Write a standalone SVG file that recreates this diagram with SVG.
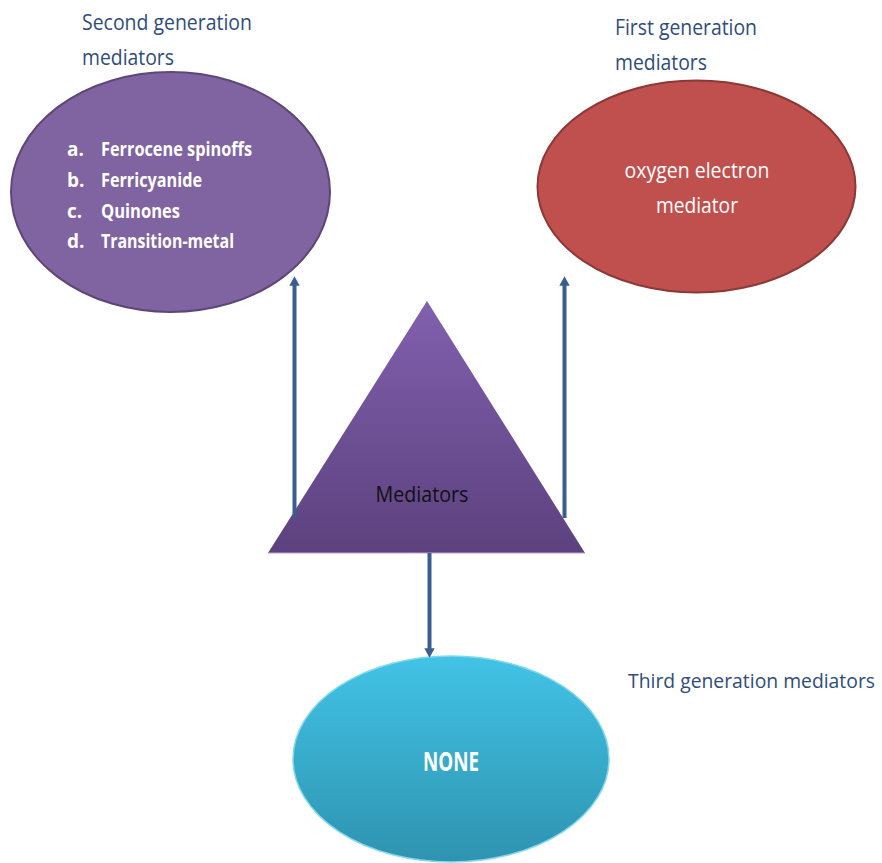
<svg xmlns="http://www.w3.org/2000/svg" width="882" height="863" viewBox="0 0 882 863">
<style>
.lbl{font-family:"Open Sans","Liberation Sans",sans-serif;font-size:22px;fill:#2F4C7C}
.wt{font-family:"Open Sans","Liberation Sans",sans-serif;fill:#FFFFFF}
.bw{font-family:"Open Sans","Liberation Sans",sans-serif;font-weight:bold;fill:#FFFFFF;font-size:19px}
.conn{stroke:#3A5F8E;stroke-width:4;fill:none}
</style>
<defs>
<linearGradient id="triG" x1="0" y1="0" x2="0" y2="1">
<stop offset="0" stop-color="#8160AE"/>
<stop offset="1" stop-color="#5C417E"/>
</linearGradient>
<linearGradient id="cyG" x1="0" y1="0" x2="0" y2="1">
<stop offset="0" stop-color="#42C3E6"/>
<stop offset="1" stop-color="#2E93B0"/>
</linearGradient>
<marker id="ah" markerWidth="2.4" markerHeight="2.6" refX="1.2" refY="1.3" orient="auto" markerUnits="strokeWidth">
<path d="M0,0 L2.4,1.3 L0,2.6 Z" fill="#3A5F8E"/>
</marker>
</defs>
<g id="second">
<ellipse cx="170.5" cy="192" rx="159.5" ry="120" fill="#8064A2" stroke="#5C4776" stroke-width="2"/>
<text class="lbl" x="82" y="30" textLength="170" lengthAdjust="spacingAndGlyphs">Second generation</text>
<text class="lbl" x="82" y="65" textLength="92" lengthAdjust="spacingAndGlyphs">mediators</text>
<text class="bw" x="67" y="156">a.</text><text class="bw" x="101" y="156" textLength="151" lengthAdjust="spacingAndGlyphs">Ferrocene spinoffs</text>
<text class="bw" x="67" y="187">b.</text><text class="bw" x="101" y="187" textLength="101" lengthAdjust="spacingAndGlyphs">Ferricyanide</text>
<text class="bw" x="67" y="218">c.</text><text class="bw" x="101" y="218" textLength="79" lengthAdjust="spacingAndGlyphs">Quinones</text>
<text class="bw" x="67" y="248">d.</text><text class="bw" x="101" y="248" textLength="133" lengthAdjust="spacingAndGlyphs">Transition-metal</text>
</g>
<g id="first">
<ellipse cx="696.5" cy="186.5" rx="159" ry="106" fill="#C0504D" stroke="#8C3836" stroke-width="2"/>
<text class="lbl" x="615" y="35" textLength="142" lengthAdjust="spacingAndGlyphs">First generation</text>
<text class="lbl" x="615" y="70" textLength="92" lengthAdjust="spacingAndGlyphs">mediators</text>
<text class="wt" x="697" y="178" font-size="22" text-anchor="middle" textLength="145" lengthAdjust="spacingAndGlyphs">oxygen electron</text>
<text class="wt" x="697" y="213" font-size="22" text-anchor="middle" textLength="82" lengthAdjust="spacingAndGlyphs">mediator</text>
</g>
<g id="mediators">
<polygon points="427,301 585,553 268,553" fill="url(#triG)"/>
<line x1="268" y1="553" x2="585" y2="553" stroke="#B8A3D3" stroke-width="1"/>
<text x="422" y="502" font-family="'Open Sans','Liberation Sans',sans-serif" font-size="22" fill="#111111" text-anchor="middle" textLength="93" lengthAdjust="spacingAndGlyphs">Mediators</text>
</g>
<g id="third">
<ellipse cx="451" cy="759" rx="158" ry="103" fill="url(#cyG)" stroke="#7FD8EE" stroke-width="1.5"/>
<text class="lbl" x="628" y="688" style="font-size:19.5px" textLength="247" lengthAdjust="spacingAndGlyphs">Third generation mediators</text>
<text class="wt" x="451" y="771" font-size="27" font-weight="bold" text-anchor="middle" textLength="56" lengthAdjust="spacingAndGlyphs">NONE</text>
</g>
<g id="connectors">
<line class="conn" x1="294.5" y1="518" x2="294.5" y2="281" marker-end="url(#ah)"/>
<line class="conn" x1="564.5" y1="518" x2="564.5" y2="281" marker-end="url(#ah)"/>
<line class="conn" x1="429.5" y1="553" x2="429.5" y2="653" marker-end="url(#ah)"/>
</g>
</svg>
